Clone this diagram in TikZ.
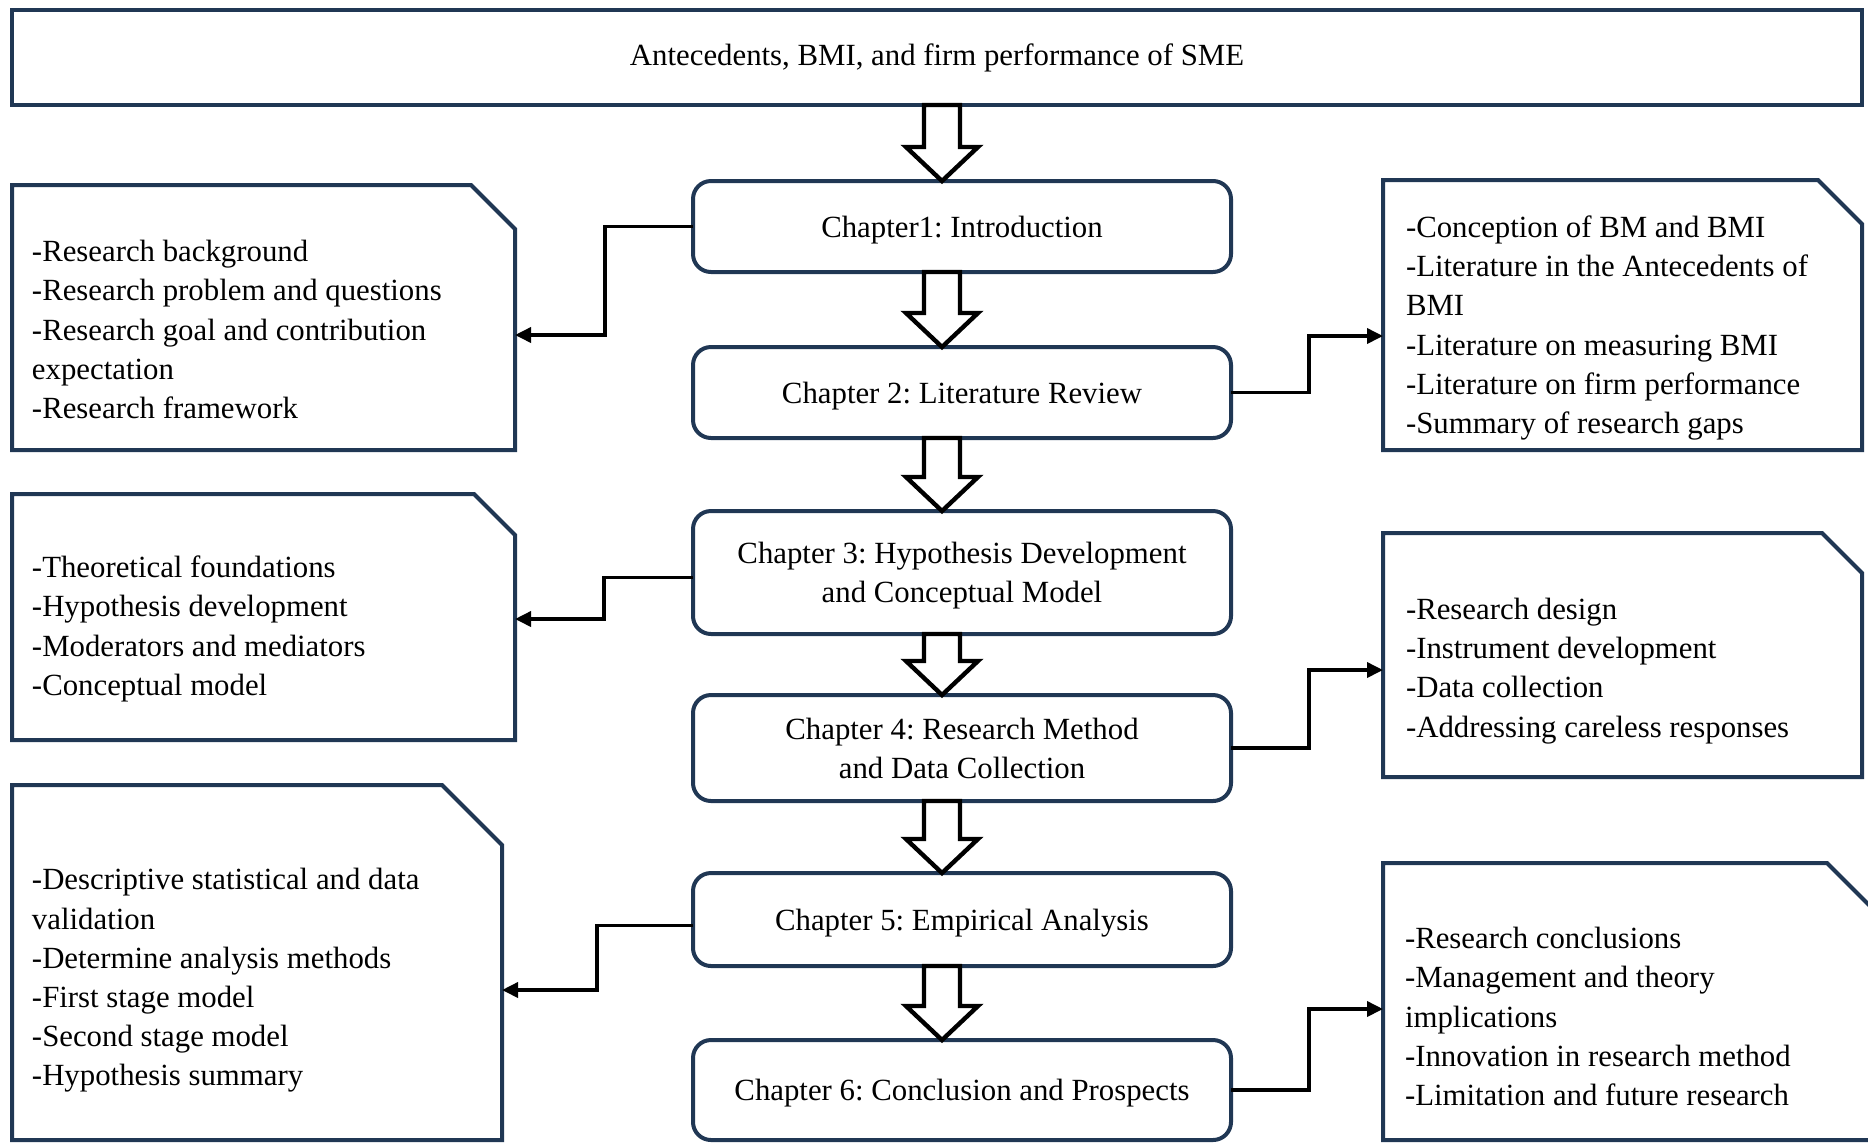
\documentclass[tikz,border=0pt]{standalone}
\usepackage{fontspec}
\setmainfont{Liberation Serif}
\frenchspacing
\usetikzlibrary{calc, arrows.meta}
\definecolor{frameblue}{RGB}{32,55,84}

\begin{document}
\begin{tikzpicture}[x=0.5pt, y=-0.5pt,
  every node/.style={font=\fontsize{15.4}{19.6}\selectfont, outer sep=0pt, inner sep=0pt},
  titlebox/.style={draw=frameblue, line width=2pt, minimum width=925pt, minimum height=47.5pt},
  chapter/.style={draw=frameblue, line width=2pt, rounded corners=9pt, minimum width=269pt, align=center, text depth=0pt},
  notebox/.style={minimum width=251.5pt},
  frame/.style={draw=frameblue, line width=2pt, line join=miter},
  notetext/.style={anchor=west, align=left},
  link/.style={line width=1.8pt, -{Triangle[length=8pt, width=7.5pt]}},
  hollow/.style={draw=black, fill=white, line width=2.2pt, line join=miter,
    to path={let \p1=(\tikztostart), \p2=(\tikztotarget) in
      (\x1-9pt,\y1) -- (\x1-9pt,\y2+17pt) -- (\x1-18pt,\y2+17pt) -- (\p2)
      -- (\x1+18pt,\y2+17pt) -- (\x1+9pt,\y2+17pt) -- (\x1+9pt,\y1) -- cycle}}]
  \useasboundingbox (0,0) rectangle (1868,1142);
  \coordinate (spine) at (942,0);

  \node[titlebox] (top) at (937,57.5) {Antecedents, BMI, and firm performance of SME};

  % chapters down the middle
  \node[chapter, minimum height=45.5pt] (c1) at (962,226.5) {Chapter1: Introduction};
  \node[chapter, minimum height=45.5pt] (c2) at (962,392.5) {Chapter 2: Literature Review};
  \node[chapter, minimum height=61.5pt] (c3) at (962,572.5) {Chapter 3: Hypothesis Development\\and Conceptual Model};
  \node[chapter, minimum height=53pt] (c4) at (962,748) {Chapter 4: Research Method\\and Data Collection};
  \node[chapter, minimum height=46.5pt] (c5) at (962,919.5) {Chapter 5: Empirical Analysis};
  \node[chapter, minimum height=50pt] (c6) at (962,1090) {Chapter 6: Conclusion and Prospects};

  % contents of each chapter
  \node[notebox, minimum height=132.5pt] (L1) at (263.5,317.5) {};
  \node[notebox, minimum width=239.5pt, minimum height=135pt] (R1) at (1622.5,315) {};
  \node[notebox, minimum height=123pt] (L2) at (263.5,617) {};
  \node[notebox, minimum width=239.5pt, minimum height=122pt] (R2) at (1622.5,655) {};
  \node[notebox, minimum width=245pt, minimum height=177.5pt] (L3) at (257,962.5) {};
  \node[notebox, minimum width=251pt, minimum height=138.5pt] (R3) at (1634,1001.5) {};

  % outlines with the clipped corner
  \draw[frame] (L1.north west) -- ([xshift=-22pt]L1.north east) -- ([yshift=-22pt]L1.north east) -- (L1.south east) -- (L1.south west) -- cycle;
  \draw[frame] (R1.north west) -- ([xshift=-22pt]R1.north east) -- ([yshift=-22pt]R1.north east) -- (R1.south east) -- (R1.south west) -- cycle;
  \draw[frame] (L2.north west) -- ([xshift=-20.5pt]L2.north east) -- ([yshift=-20.5pt]L2.north east) -- (L2.south east) -- (L2.south west) -- cycle;
  \draw[frame] (R2.north west) -- ([xshift=-20pt]R2.north east) -- ([yshift=-20pt]R2.north east) -- (R2.south east) -- (R2.south west) -- cycle;
  \draw[frame] (L3.north west) -- ([xshift=-30pt]L3.north east) -- ([yshift=-30pt]L3.north east) -- (L3.south east) -- (L3.south west) -- cycle;
  \draw[frame] (R3.north west) -- ([xshift=-29pt]R3.north east) -- ([yshift=-29pt]R3.north east) -- (R3.south east) -- (R3.south west) -- cycle;

  \node[notetext] (L1t) at ([xshift=10pt, yshift=-6pt]L1.west) {-Research background\\-Research problem and questions\\-Research goal and contribution\\expectation\\-Research framework};
  \node[notetext] (R1t) at ([xshift=11.5pt, yshift=-6.5pt]R1.west) {-Conception of BM and BMI\\-Literature in the Antecedents of\\BMI\\-Literature on measuring BMI\\-Literature on firm performance\\-Summary of research gaps};
  \node[notetext] (L2t) at ([xshift=10pt, yshift=-6pt]L2.west) {-Theoretical foundations\\-Hypothesis development\\-Moderators and mediators\\-Conceptual model};
  \node[notetext] (R2t) at ([xshift=11.5pt, yshift=-8pt]R2.west) {-Research design\\-Instrument development\\-Data collection\\-Addressing careless responses};
  \node[notetext] (L3t) at ([xshift=10pt, yshift=-9pt]L3.west) {-Descriptive statistical and data\\validation\\-Determine analysis methods\\-First stage model\\-Second stage model\\-Hypothesis summary};
  \node[notetext] (R3t) at ([xshift=11pt, yshift=-7.5pt]R3.west) {-Research conclusions\\-Management and theory\\implications\\-Innovation in research method\\-Limitation and future research};

  % elbow links to the content boxes
  \draw[link] (c1.west) -- ++(-88,0) |- ($(L1.east)+(0,17.5)$);
  \draw[link] (c2.east) -- ++(78,0) |- ($(R1.west)+(0,21)$);
  \draw[link] ($(c3.west)+(0,5)$) -- ++(-89,0) |- ($(L2.east)+(0,2)$);
  \draw[link] (c4.east) -- ++(78,0) |- ($(R2.west)+(0,15)$);
  \draw[link] ($(c5.west)+(0,6)$) -- ++(-96,0) |- ($(L3.east)+(0,27.5)$);
  \draw[link] (c6.east) -- ++(78,0) |- ($(R3.west)+(0,7.5)$);

  % hollow block arrows
  \draw[hollow] (spine |- top.south) to (spine |- c1.north);
  \draw[hollow] (spine |- c1.south) to (spine |- c2.north);
  \draw[hollow] (spine |- c2.south) to (spine |- c3.north);
  \draw[hollow] (spine |- c3.south) to (spine |- c4.north);
  \draw[hollow] (spine |- c4.south) to (spine |- c5.north);
  \draw[hollow] (spine |- c5.south) to (spine |- c6.north);
\end{tikzpicture}
\end{document}
